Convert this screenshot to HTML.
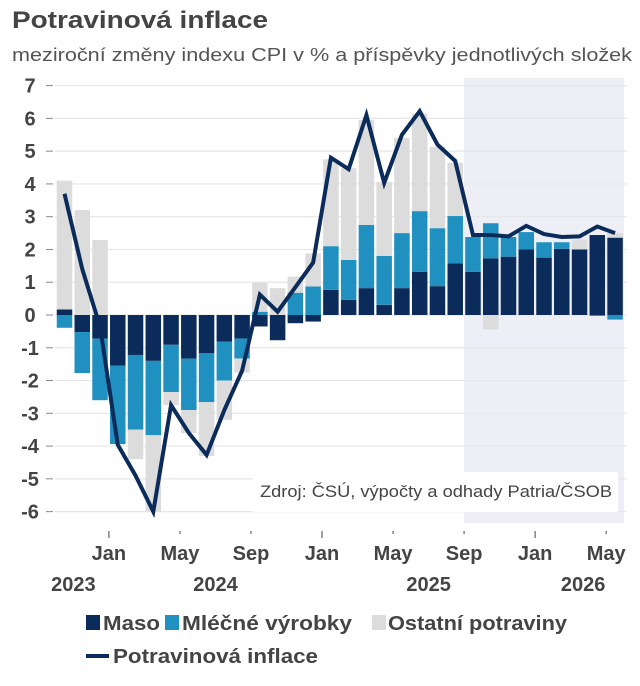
<!DOCTYPE html>
<html><head><meta charset="utf-8">
<style>
html,body{margin:0;padding:0;background:#fff;width:640px;height:686px;overflow:hidden}
svg{display:block}
text{font-family:"Liberation Sans Narrow","Liberation Sans",sans-serif}
</style></head>
<body>
<svg id="chart" width="640" height="686" viewBox="0 0 640 686">
<text x="12" y="28" font-size="24" font-weight="bold" fill="#444" font-family="Liberation Sans, sans-serif" textLength="256" lengthAdjust="spacingAndGlyphs">Potravinová inflace</text>
<text x="12" y="61" font-size="18" fill="#555" font-family="Liberation Sans, sans-serif" textLength="620" lengthAdjust="spacingAndGlyphs">meziroční změny indexu CPI v % a příspěvky jednotlivých složek</text>
<rect x="464" y="78" width="160" height="445" fill="#eeeff6"/>
<g id="grid"></g>
<g id="bars"></g>
<g id="line"></g>
<rect x="253" y="472" width="365" height="40" fill="#fff"/>
<text x="260" y="497" font-size="17" fill="#444" font-family="Liberation Sans, sans-serif" textLength="352" lengthAdjust="spacingAndGlyphs">Zdroj: ČSÚ, výpočty a odhady Patria/ČSOB</text>
<g id="xaxis"></g>
<g font-size="20" font-weight="bold" fill="#444">
<rect x="86" y="615" width="14" height="15" fill="#0b2c5a"/>
<text x="103" y="630" textLength="57" lengthAdjust="spacingAndGlyphs">Maso</text>
<rect x="165" y="615" width="14" height="15" fill="#2090c0"/>
<text x="182" y="630" textLength="170" lengthAdjust="spacingAndGlyphs">Mléčné výrobky</text>
<rect x="372" y="615" width="14" height="15" fill="#dcdcdc"/>
<text x="388" y="630" textLength="179" lengthAdjust="spacingAndGlyphs">Ostatní potraviny</text>
<rect x="86" y="654" width="23" height="4" fill="#0b2c5a"/>
<text x="113" y="663" textLength="205" lengthAdjust="spacingAndGlyphs">Potravinová inflace</text>
</g>
</svg>
<script>
const months = ["Oct23","Nov23","Dec23","Jan24","Feb24","Mar24","Apr24","May24","Jun24","Jul24","Aug24","Sep24","Oct24","Nov24","Dec24","Jan25","Feb25","Mar25","Apr25","May25","Jun25","Jul25","Aug25","Sep25","Oct25","Nov25","Dec25","Jan26","Feb26","Mar26","Apr26","May26"];
const maso = [0.17,-0.52,-0.72,-1.55,-1.22,-1.4,-0.91,-1.33,-1.17,-0.81,-0.72,-0.35,-0.77,-0.25,-0.2,0.77,0.46,0.82,0.31,0.82,1.32,0.88,1.58,1.32,1.73,1.78,2.0,1.75,2.02,2.0,2.44,2.36];
const mlecne = [-0.39,-1.25,-1.88,-2.39,-2.28,-2.27,-1.44,-1.57,-1.49,-1.19,-0.61,0.1,0,0.68,0.87,1.33,1.22,1.93,1.49,1.68,1.85,1.77,1.44,1.06,1.07,0.6,0.53,0.47,0.2,0,-0.03,-0.14];
const ostatni = [3.93,3.2,2.29,0,-0.9,-2.33,-0.4,-0.7,-1.64,-1.2,-0.43,0.88,0.82,0.49,1.01,2.65,2.8,3.2,2.26,2.9,2.98,2.48,1.63,0,-0.44,0,0,0,0,0.3,0,0.14];
const inflace = [3.7,1.4,-0.35,-3.96,-4.9,-6.0,-2.75,-3.6,-4.27,-2.9,-1.7,0.62,0.1,0.85,1.6,4.8,4.45,6.1,4.03,5.5,6.22,5.2,4.7,2.44,2.44,2.4,2.72,2.47,2.38,2.4,2.7,2.5];
const yTicks = [7,6,5,4,3,2,1,0,-1,-2,-3,-4,-5,-6];
const xTickLabels = ["Jan","May","Sep","Jan","May","Sep","Jan","May"];
const xTickMonths = [3,7,11,15,19,23,27,31];
const yearLabels = ["2023","2024","2025","2026"];
const yearPos = [0.5,8.5,20.5,29.2];

const NS="http://www.w3.org/2000/svg";
const x0=64.5, step=17.76, bw=15.5;
const X=i=>x0+i*step;
const Y=v=>315-v*32.77;
function mk(tag,attrs,parent){const e=document.createElementNS(NS,tag);for(const k in attrs)e.setAttribute(k,attrs[k]);parent.appendChild(e);return e;}
const grid=document.getElementById('grid'),bars=document.getElementById('bars'),line=document.getElementById('line'),xa=document.getElementById('xaxis');
yTicks.forEach(v=>{
  const g=mk('line',{x1:55,x2:627,y1:Y(v),y2:Y(v),stroke:'#e6e6e6','stroke-width':1.2},grid);
  
  
  const t=mk('line',{x1:46,x2:53,y1:Y(v),y2:Y(v),stroke:'#888','stroke-width':1},grid);
  
  
  const l=mk('text',{x:30,y:Y(v)+7,'font-size':20,'font-weight':'bold',fill:'#444','text-anchor':'middle'},grid);
  l.textContent=String(v);
  
  
});
const cols=['#0b2c5a','#2090c0','#dcdcdc'];
const series=[maso,mlecne,ostatni];
months.forEach((m,i)=>{
  let pos=0,neg=0;
  series.forEach((s,k)=>{
    const v=s[i]; if(!v) return;
    let a,b;
    if(v>0){a=pos;b=pos+v;pos=b;}else{a=neg;b=neg+v;neg=b;}
    const r=mk('rect',{x:X(i)-bw/2,y:Math.min(Y(a),Y(b)),width:bw,height:Math.abs(Y(a)-Y(b)),fill:cols[k]},bars);
    
    
  });
});
const p=mk('polyline',{points:inflace.map((v,i)=>X(i)+','+Y(v)).join(' '),fill:'none',stroke:'#0b2c5a','stroke-width':4,'stroke-linejoin':'miter'},line);


xTickMonths.forEach((mi,j)=>{
  const x=X(mi-0.5);
  const big=xTickLabels[j]==="Jan";
  const t=mk('line',{x1:x,x2:x,y1:531,y2:big?538:534,stroke:'#666','stroke-width':1.2},xa);
  
  
  const l=mk('text',{x:x,y:560,'font-size':20,'font-weight':'bold',fill:'#444','text-anchor':'middle'},xa);
  l.textContent=xTickLabels[j];
  
  
});
yearLabels.forEach((y,j)=>{
  const l=mk('text',{x:X(yearPos[j]),y:591,'font-size':20,'font-weight':'bold',fill:'#444','text-anchor':'middle'},xa);
  l.textContent=y;
  
  
});
</script>
</body></html>
